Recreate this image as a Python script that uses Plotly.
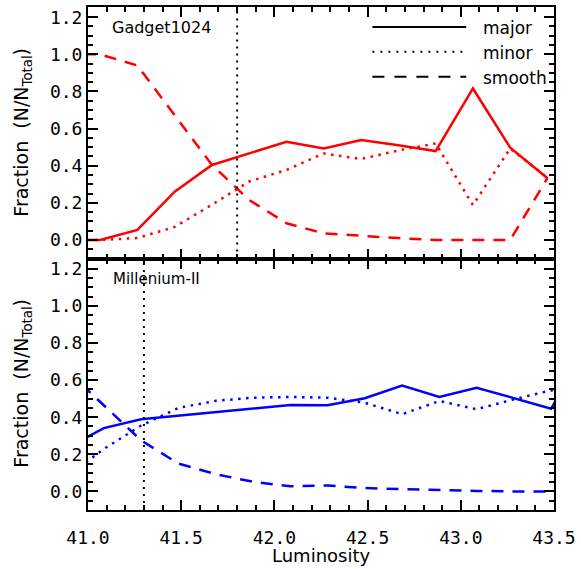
import plotly.graph_objects as go

# ---------------- data ----------------
lum_gadget = [40.865, 41.065, 41.265, 41.465, 41.665, 41.865, 42.065, 42.265,
              42.465, 42.665, 42.865, 43.065, 43.265, 43.465]
gadget_major = [0.0, 0.0, 0.054, 0.26, 0.404, 0.465, 0.529, 0.493, 0.538, 0.51,
                0.479, 0.816, 0.497, 0.332]
gadget_minor = [0.0, 0.0, 0.01, 0.07, 0.19, 0.315, 0.377, 0.466, 0.436, 0.482,
                0.52, 0.188, 0.493, 0.335]
gadget_smooth = [1.0, 1.0, 0.94, 0.67, 0.404, 0.215, 0.09, 0.035, 0.022, 0.01,
                 0.0, 0.0, 0.0, 0.333]

lum_mill = [40.885, 41.085, 41.285, 41.485, 41.685, 41.885, 42.085, 42.285,
            42.485, 42.685, 42.885, 43.085, 43.285, 43.485, 43.685]
mill_major = [0.233, 0.341, 0.389, 0.408, 0.425, 0.444, 0.466, 0.464, 0.502,
              0.571, 0.509, 0.559, 0.502, 0.446, 0.80]
mill_minor = [0.081, 0.229, 0.355, 0.45, 0.488, 0.505, 0.509, 0.505, 0.478,
              0.416, 0.487, 0.443, 0.496, 0.545, 0.46]
mill_smooth = [0.653, 0.465, 0.275, 0.15, 0.093, 0.052, 0.028, 0.032, 0.018,
               0.013, 0.007, 0.003, 0.0, 0.0, 0.0]

limit_gadget = 41.8
limit_mill = 41.3

x_ticks = [41.0, 41.5, 42.0, 42.5, 43.0, 43.5]
legend_labels = ["major", "minor", "smooth"]
panel_labels = ["Gadget1024", "Millenium-II"]

# ---------------- styles ----------------
FONT = "DejaVu Sans"
TICKFONT = "DejaVu Sans Mono"
RED = "rgb(255,0,0)"
BLUE = "rgb(0,0,255)"
LW = 2.5
DASH = "12px,9px"
DOT = "2.5px,5.5px"

fig = go.Figure()

def add_set(x, major, minor, smooth, color, xa, ya):
    for y, d in ((major, "solid"), (minor, DOT), (smooth, DASH)):
        fig.add_trace(go.Scatter(x=x, y=y, mode="lines", xaxis=xa, yaxis=ya,
                                 line=dict(color=color, width=LW, dash=d),
                                 showlegend=False, hoverinfo="skip",
                                 cliponaxis=True))

add_set(lum_gadget, gadget_major, gadget_minor, gadget_smooth, RED, "x2", "y2")
add_set(lum_mill, mill_major, mill_minor, mill_smooth, BLUE, "x", "y")

# vertical limit lines
fig.add_shape(type="line", xref="x2", yref="y2 domain", x0=limit_gadget,
              x1=limit_gadget, y0=0, y1=1,
              line=dict(color="black", width=2, dash="2px,5px"))
fig.add_shape(type="line", xref="x", yref="y domain", x0=limit_mill,
              x1=limit_mill, y0=0, y1=1,
              line=dict(color="black", width=2, dash="2px,5px"))

common_x = dict(range=[41.0, 43.5], tickvals=x_ticks,
                ticktext=[f"{v:.1f}" for v in x_ticks],
                ticks="inside", ticklen=10, tickwidth=2, tickcolor="black",
                minor=dict(dtick=0.1, ticklen=5, tickwidth=1.5,
                           tickcolor="black", ticks="inside", showgrid=False),
                showline=True, linewidth=2, linecolor="black", mirror="ticks",
                showgrid=False, zeroline=False,
                tickfont=dict(family=TICKFONT, size=18, color="black"))
common_y = dict(range=[-0.1, 1.255], tick0=0, dtick=0.2, tickformat=".1f",
                ticks="inside", ticklen=10, tickwidth=2, tickcolor="black",
                minor=dict(dtick=0.05, ticklen=5, tickwidth=1.5,
                           tickcolor="black", ticks="inside", showgrid=False),
                showline=True, linewidth=2, linecolor="black", mirror="ticks",
                showgrid=False, zeroline=False,
                tickfont=dict(family=TICKFONT, size=18, color="black"))

fig.update_layout(
    width=581, height=569,
    margin=dict(l=88, r=26, t=5, b=59),
    paper_bgcolor="white", plot_bgcolor="white",
    showlegend=False,
    xaxis=dict(anchor="y", domain=[0, 1], ticklabelstandoff=10, **common_x),
    xaxis2=dict(anchor="y2", domain=[0, 1], matches="x",
                showticklabels=False, **common_x),
    yaxis=dict(anchor="x", domain=[0, 0.5], **common_y),
    yaxis2=dict(anchor="x2", domain=[0.5, 1], **common_y),
)

# hand-drawn legend (black line samples + labels)
W = 467.0
H = 505.0
def px(p):
    return (p - 88) / W
def py(p):
    return (510 - p) / H

for lab, d, yy in zip(legend_labels, ["solid", "2px,6px", "12px,10px"], [25, 50, 75]):
    fig.add_shape(type="line", xref="paper", yref="paper",
                  x0=px(373), x1=px(467), y0=py(yy), y1=py(yy),
                  line=dict(color="black", width=2, dash=d))
    fig.add_annotation(text=lab, xref="paper", yref="paper", x=px(482),
                       y=py(yy + 1), xanchor="left", yanchor="middle",
                       showarrow=False,
                       font=dict(family=FONT, size=17, color="black"))

fig.add_annotation(text=panel_labels[0], xref="paper", yref="paper",
                   x=px(110), y=py(26), xanchor="left", yanchor="middle",
                   showarrow=False, font=dict(family=FONT, size=16, color="black"))
fig.add_annotation(text=panel_labels[1], xref="paper", yref="paper",
                   x=px(111), y=py(278), xanchor="left", yanchor="middle",
                   showarrow=False, font=dict(family=FONT, size=15, color="black"))

ytitle = "Fraction  (N/N<sub>Total</sub>)"
for yc in (131, 383):
    fig.add_annotation(text=ytitle, xref="paper", yref="paper", x=px(22),
                       y=py(yc), xanchor="center", yanchor="middle",
                       textangle=-90, showarrow=False,
                       font=dict(family=FONT, size=19, color="black"))

fig.add_annotation(text="Luminosity", xref="paper", yref="paper", x=0.5,
                   y=py(568), xanchor="center", yanchor="bottom",
                   showarrow=False, font=dict(family=FONT, size=18, color="black"))

fig.write_html("out.html", config={"displayModeBar": False},
               post_script="document.body.style.margin='0px';document.body.style.padding='0px';")
